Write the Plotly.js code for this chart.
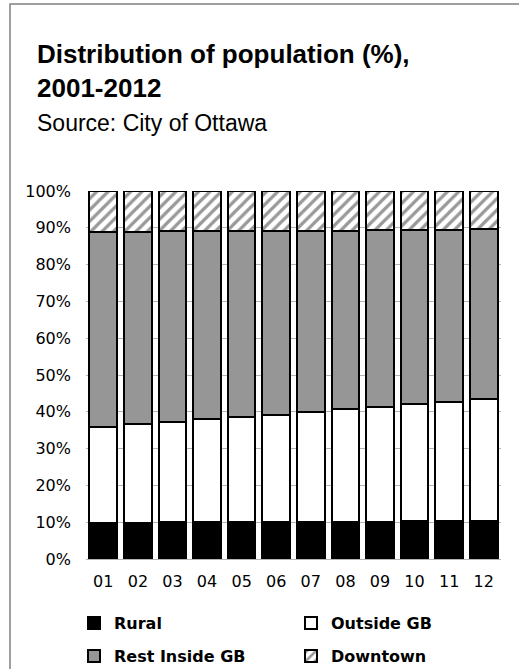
<!DOCTYPE html>
<html>
<head>
<meta charset="utf-8">
<script src="https://cdn.plot.ly/plotly-3.0.1.min.js"></script>
<style>
  html, body { margin: 0; padding: 0; background: #fff; }
  #chart { width: 519px; height: 669px; }
</style>
</head>
<body>
<div id="chart"></div>
<script>
// ---- Data (percent of population) ----
var years = ['01', '02', '03', '04', '05', '06', '07', '08', '09', '10', '11', '12'];
var rural = [9.9, 9.9, 10.0, 10.0, 10.0, 10.0, 10.0, 10.0, 10.1, 10.2, 10.2, 10.3];
var outsideGB = [26.1, 26.7, 27.3, 28.0, 28.6, 29.1, 29.9, 30.7, 31.3, 32.0, 32.6, 33.2];
var restInsideGB = [52.8, 52.3, 51.7, 51.0, 50.5, 50.0, 49.3, 48.5, 47.9, 47.3, 46.7, 46.1];
var downtown = [11.2, 11.1, 11.0, 11.0, 10.9, 10.9, 10.8, 10.8, 10.7, 10.5, 10.5, 10.4];
var seriesNames = ['Rural', 'Outside GB', 'Rest Inside GB', 'Downtown'];
var yTicks = [0, 10, 20, 30, 40, 50, 60, 70, 80, 90, 100];
var yTickLabels = ['0%', '10%', '20%', '30%', '40%', '50%', '60%', '70%', '80%', '90%', '100%'];

// ---- Layout constants ----
var W = 519, H = 669;
var M = {l: 86, r: 18, t: 191, b: 110};
var plotW = W - M.l - M.r, plotH = H - M.t - M.b;
function px2x(px) { return (px - M.l) / plotW; }
function py2y(py) { return (H - M.b - py) / plotH; }

var outline = {color: '#000000', width: 2};

var traces = [
  {type: 'bar', name: seriesNames[0], x: years, y: rural, legend: 'legend',
   marker: {color: '#000000', line: outline}},
  {type: 'bar', name: seriesNames[1], x: years, y: outsideGB, legend: 'legend2',
   marker: {color: '#ffffff', line: outline}},
  {type: 'bar', name: seriesNames[2], x: years, y: restInsideGB, legend: 'legend3',
   marker: {color: '#969696', line: outline}},
  {type: 'bar', name: seriesNames[3], x: years, y: downtown, legend: 'legend4',
   marker: {color: '#ffffff', line: outline,
            pattern: {shape: '/', fgcolor: '#999999', bgcolor: '#ffffff', size: 8, solidity: 0.4}}}
];
traces.forEach(function (t) { t.hoverinfo = 'skip'; });

var legendFont = {family: 'DejaVu Sans, Verdana, sans-serif', size: 16, color: '#000', weight: 'bold'};
function legendAt(px, py) {
  return {
    orientation: 'h',
    xref: 'container', yref: 'container',
    x: px / W, xanchor: 'left', y: 1 - py / H, yanchor: 'middle',
    font: legendFont, bgcolor: 'rgba(0,0,0,0)', borderwidth: 0
  };
}
var tickFont = {family: 'DejaVu Sans, Verdana, sans-serif', size: 16, color: '#000'};

var layout = {
  width: W, height: H,
  margin: M,
  paper_bgcolor: '#ffffff',
  plot_bgcolor: '#ffffff',
  barmode: 'stack',
  bargap: 0.2,
  showlegend: true,
  title: {
    text: '<b>Distribution of population (%),<br>2001-2012</b><br><span style="font-size:23px">Source: City of Ottawa</span>',
    font: {family: 'Liberation Sans, Arial, sans-serif', size: 26, color: '#000'},
    xref: 'container', x: 37 / W, xanchor: 'left',
    yref: 'container', y: 1 - 63 / H, yanchor: 'top'
  },
  xaxis: {
    type: 'category',
    tickfont: tickFont,
    ticks: '', showgrid: false, showline: false, zeroline: false,
    ticklabelstandoff: 11,
    fixedrange: true
  },
  yaxis: {
    range: [0, 100],
    tickmode: 'array',
    tickvals: yTicks,
    ticktext: yTickLabels,
    tickfont: tickFont,
    ticks: '',
    showgrid: true, gridcolor: '#b4b4b4', gridwidth: 1,
    zeroline: true, zerolinecolor: '#b4b4b4', zerolinewidth: 1,
    showline: false,
    ticklabelstandoff: 14,
    fixedrange: true
  },
  legend: legendAt(74, 623),
  legend2: legendAt(291, 623),
  legend3: legendAt(74, 656),
  legend4: legendAt(291, 656),
  shapes: [{
    type: 'rect', xref: 'paper', yref: 'paper', layer: 'above',
    x0: px2x(10), x1: px2x(W + 20), y0: py2y(H + 20), y1: py2y(4),
    line: {color: '#808080', width: 1.5}, fillcolor: 'rgba(0,0,0,0)'
  }]
};

Plotly.newPlot('chart', traces, layout, {staticPlot: true, displayModeBar: false});
</script>
</body>
</html>
